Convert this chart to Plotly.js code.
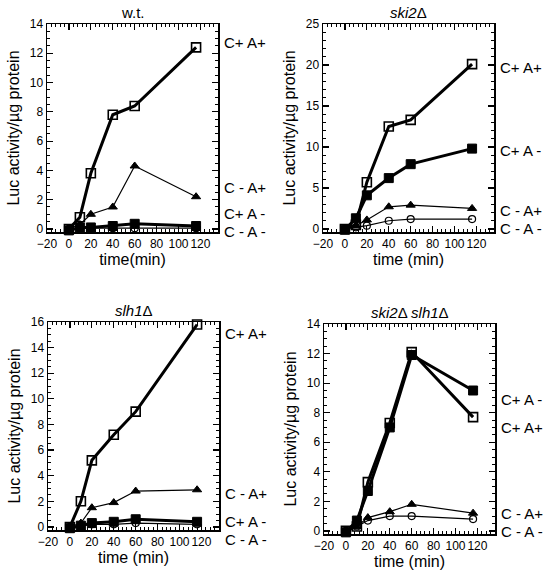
<!DOCTYPE html>
<html><head><meta charset="utf-8">
<script src="https://cdn.plot.ly/plotly-3.0.1.min.js"></script>
<style>body{margin:0;background:#fff}#c{width:550px;height:581px}</style>
</head><body><div id="c"></div>
<script>
// time points (min)
const time = [0, 10, 20, 40, 60, 116];
// w.t.
const wt_CpAp = [0, 0.8, 3.8, 7.8, 8.4, 12.4];
const wt_CpAm = [-0.1, 0.1, 0.1, 0.2, 0.35, 0.2];
const wt_CmAp = [0, 0.3, 1.0, 1.5, 4.3, 2.2];
const wt_CmAm = [0, 0.05, 0.05, 0.05, 0.05, 0.05];
// ski2Δ
const ski2_CpAp = [0, 0.5, 5.7, 12.5, 13.3, 20.1];
const ski2_CpAm = [-0.1, 1.3, 4.1, 6.2, 7.9, 9.8];
const ski2_CmAp = [0, 0.4, 1.1, 2.7, 2.9, 2.5];
const ski2_CmAm = [0, 0.2, 0.4, 1.0, 1.2, 1.2];
// slh1Δ
const slh1_CpAp = [0, 2.0, 5.2, 7.2, 9.0, 15.8];
const slh1_CpAm = [-0.1, 0.1, 0.3, 0.4, 0.6, 0.4];
const slh1_CmAp = [0, 0.3, 1.5, 1.9, 2.8, 2.9];
const slh1_CmAm = [0, 0.1, 0.2, 0.2, 0.3, 0.2];
// ski2Δ slh1Δ
const dbl_CpAp = [0, 0.3, 3.3, 7.3, 12.1, 7.7];
const dbl_CpAm = [-0.1, 0.7, 2.7, 7.0, 11.9, 9.5];
const dbl_CmAp = [0, 0.3, 0.9, 1.3, 1.8, 1.2];
const dbl_CmAm = [0, 0.3, 0.7, 1.0, 1.0, 0.8];

const panelTitles = ['w.t.', '<i>ski2</i>Δ', '<i>slh1</i>Δ', '<i>ski2</i>Δ <i>slh1</i>Δ'];
const xTitles = ['time(min)', 'time (min)', 'time (min)', 'time (min)'];
const yMax = [14, 25, 16, 14];
const yDtick = [2, 5, 2, 2];
const yMinor = [0.5, 1, 0.5, 0.5];
const seriesNames = ['C+ A+', 'C+ A -', 'C - A+', 'C - A -'];
const panelData = [
  [wt_CpAp, wt_CpAm, wt_CmAp, wt_CmAm],
  [ski2_CpAp, ski2_CpAm, ski2_CmAp, ski2_CmAm],
  [slh1_CpAp, slh1_CpAm, slh1_CmAp, slh1_CmAm],
  [dbl_CpAp, dbl_CpAm, dbl_CmAp, dbl_CmAm]
];

// layout geometry (pixels); labelPx = vertical pixel centre of right-side labels
const W = 550, H = 581;
const boxes = [
  {l: 47, r: 218, t: 24, b: 232, labelPx: [43, 214, 188, 232]},
  {l: 323, r: 494, t: 24, b: 232, labelPx: [67, 150, 210, 228]},
  {l: 48, r: 219, t: 322, b: 530, labelPx: [333, 521, 494, 539]},
  {l: 324, r: 495, t: 324, b: 534, labelPx: [427, 399, 513, 531]}
];

const styles = [
  {symbol: 'square-open', size: 9, lw: 3, mlw: 1.6},
  {symbol: 'square', size: 9, lw: 3, mlw: 1},
  {symbol: 'triangle-up', size: 8, lw: 1.2, mlw: 1},
  {symbol: 'circle-open', size: 7, lw: 1.2, mlw: 1.2}
];

const FONT = 'Liberation Sans, Arial, sans-serif';
const traces = [];
const layout = {
  width: W, height: H, showlegend: false,
  margin: {l: 0, r: 0, t: 0, b: 0},
  paper_bgcolor: '#fff', plot_bgcolor: '#fff',
  font: {family: FONT, color: '#000', size: 12},
  annotations: []
};

for (let p = 0; p < 4; p++) {
  const sfx = p === 0 ? '' : String(p + 1);
  const b = boxes[p];
  const xd = [b.l / W, b.r / W];
  const yd = [1 - b.b / H, 1 - b.t / H];
  [3, 2, 1, 0].forEach(s => {
    const st = styles[s];
    traces.push({
      x: time, y: panelData[p][s], name: seriesNames[s],
      xaxis: 'x' + sfx, yaxis: 'y' + sfx,
      mode: 'lines+markers', cliponaxis: false,
      line: {color: '#000', width: st.lw},
      marker: {symbol: st.symbol, size: st.size, color: '#000',
               line: {color: '#000', width: st.mlw}}
    });
  });
  const axCommon = {
    showgrid: false, zeroline: false, showline: true, linecolor: '#000', linewidth: 1.5,
    mirror: 'allticks', ticks: 'inside', ticklen: 6, tickwidth: 1.2, tickcolor: '#000',
    tickfont: {size: 12, family: FONT}, tickangle: 0, automargin: false
  };
  layout['xaxis' + sfx] = Object.assign({}, axCommon, {
    domain: xd, anchor: 'y' + sfx, range: [-20, 136],
    tickmode: 'linear', tick0: -20, dtick: 20,
    minor: {dtick: 4, tick0: 0, ticks: 'inside', ticklen: 3, tickcolor: '#000', tickwidth: 1},
    title: {text: xTitles[p], font: {size: 16}, standoff: 0}
  });
  layout['yaxis' + sfx] = Object.assign({}, axCommon, {
    domain: yd, anchor: 'x' + sfx, range: [-yMax[p] * 0.015, yMax[p]],
    tickmode: 'linear', tick0: 0, dtick: yDtick[p],
    minor: {dtick: yMinor[p], tick0: 0, ticks: 'inside', ticklen: 3, tickcolor: '#000', tickwidth: 1},
    title: {text: 'Luc activity/µg protein', font: {size: 16}, standoff: 6}
  });
  layout.annotations.push({
    text: panelTitles[p], xref: 'paper', yref: 'paper',
    x: (xd[0] + xd[1]) / 2, y: yd[1], yanchor: 'bottom', xanchor: 'center', yshift: 1,
    showarrow: false, font: {size: 15}
  });
  for (let s = 0; s < 4; s++) {
    layout.annotations.push({
      text: seriesNames[s], xref: 'paper', yref: 'paper',
      x: (b.r + 5) / W, y: 1 - b.labelPx[s] / H, xanchor: 'left', yanchor: 'middle',
      showarrow: false, font: {size: 15}, borderpad: 0
    });
  }
}

Plotly.newPlot('c', traces, layout, {staticPlot: true});
</script></body></html>
